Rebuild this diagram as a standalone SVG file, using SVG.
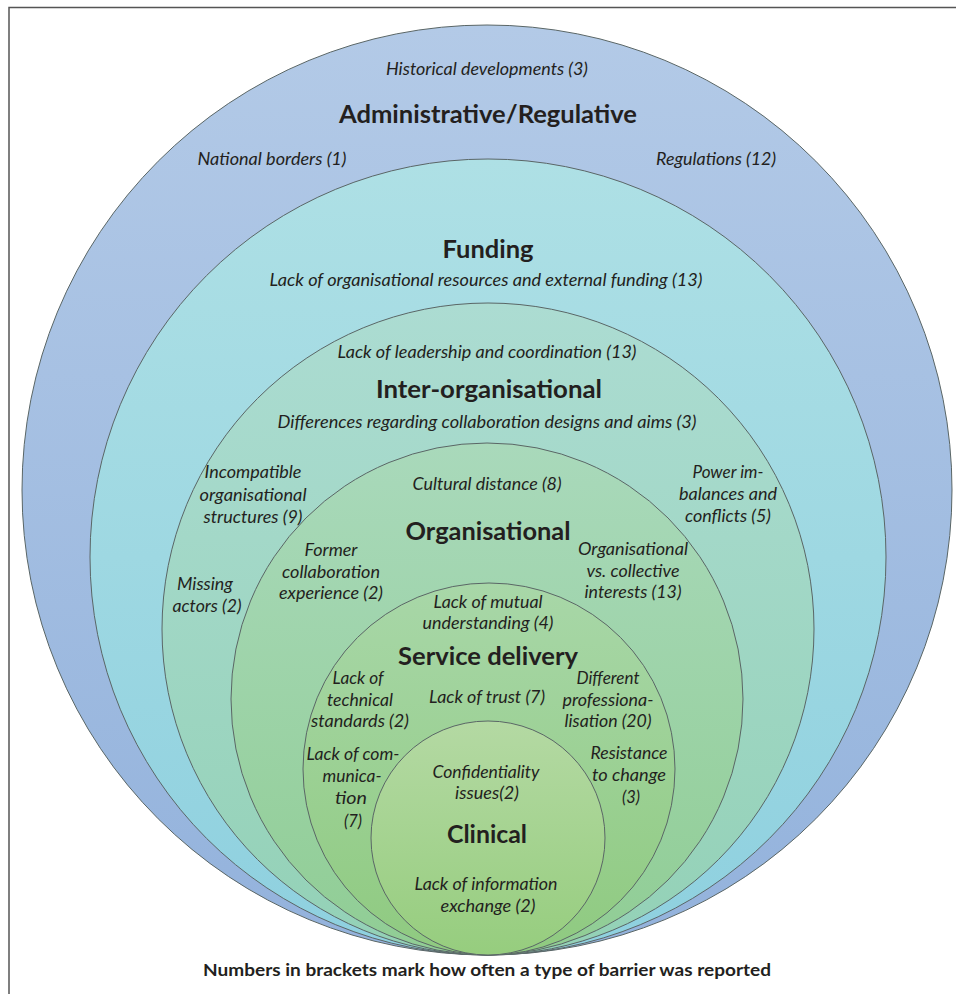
<svg xmlns="http://www.w3.org/2000/svg" width="956" height="994" viewBox="0 0 956 994">
  <style>
    .ring { stroke: #5a6666; stroke-width: 1; }
    .it { font-family: Lato, "Open Sans", "Liberation Sans", sans-serif; font-style: italic; font-size: 16.5px; fill: #231f20; text-anchor: middle; }
    .hd { font-family: Lato, "Open Sans", "Liberation Sans", sans-serif; font-weight: bold; font-size: 25.5px; fill: #231f20; text-anchor: middle; }
    .cap { font-family: Lato, "Open Sans", "Liberation Sans", sans-serif; font-weight: bold; font-size: 17.5px; fill: #231f20; text-anchor: middle; }
  </style>
  <defs>
    <linearGradient id="gAdmin" x1="0" y1="0" x2="0" y2="1">
      <stop offset="0" stop-color="#b3cae7"/>
      <stop offset="1" stop-color="#93b2dc"/>
    </linearGradient>
    <linearGradient id="gFund" x1="0" y1="0" x2="0" y2="1">
      <stop offset="0" stop-color="#aee0e5"/>
      <stop offset="1" stop-color="#8ed0df"/>
    </linearGradient>
    <linearGradient id="gInter" x1="0" y1="0" x2="0" y2="1">
      <stop offset="0" stop-color="#acdcd2"/>
      <stop offset="1" stop-color="#93d1b6"/>
    </linearGradient>
    <linearGradient id="gOrg" x1="0" y1="0" x2="0" y2="1">
      <stop offset="0" stop-color="#a9d9bb"/>
      <stop offset="1" stop-color="#90cd94"/>
    </linearGradient>
    <linearGradient id="gServ" x1="0" y1="0" x2="0" y2="1">
      <stop offset="0" stop-color="#a8d7a8"/>
      <stop offset="1" stop-color="#8fca80"/>
    </linearGradient>
    <linearGradient id="gClin" x1="0" y1="0" x2="0" y2="1">
      <stop offset="0" stop-color="#b4d9a3"/>
      <stop offset="1" stop-color="#96cd7e"/>
    </linearGradient>
  </defs>

  <rect width="956" height="994" fill="#ffffff"/>
  <!-- frame -->
  <path d="M9,994 V7.5 H956" fill="none" stroke="#555555" stroke-width="1.5"/>

  <!-- outermost ring -->
  <g id="administrative">
    <circle class="ring" cx="487" cy="490" r="465" fill="url(#gAdmin)"/>
    <text class="it" x="487" y="75" textLength="202" lengthAdjust="spacingAndGlyphs">Historical developments (3)</text>
    <text class="hd" x="488" y="123" textLength="298" lengthAdjust="spacingAndGlyphs">Administrative/Regulative</text>
    <text class="it" x="272" y="165" textLength="149" lengthAdjust="spacingAndGlyphs">National borders (1)</text>
    <text class="it" x="716" y="165" textLength="120" lengthAdjust="spacingAndGlyphs">Regulations (12)</text>
  </g>

  <g id="funding">
    <circle class="ring" cx="488" cy="557" r="398" fill="url(#gFund)"/>
    <text class="hd" x="488" y="258" textLength="91" lengthAdjust="spacingAndGlyphs">Funding</text>
    <text class="it" x="486" y="286" textLength="433" lengthAdjust="spacingAndGlyphs">Lack of organisational resources and external funding (13)</text>
  </g>

  <g id="inter-organisational">
    <circle class="ring" cx="488" cy="629" r="326" fill="url(#gInter)"/>
    <text class="it" x="487" y="358" textLength="299" lengthAdjust="spacingAndGlyphs">Lack of leadership and coordination (13)</text>
    <text class="hd" x="489" y="398" textLength="226" lengthAdjust="spacingAndGlyphs">Inter-organisational</text>
    <text class="it" x="487" y="428" textLength="419" lengthAdjust="spacingAndGlyphs">Differences regarding collaboration designs and aims (3)</text>
    <text class="it" x="253" y="478" textLength="97" lengthAdjust="spacingAndGlyphs">Incompatible</text>
    <text class="it" x="253" y="501" textLength="107" lengthAdjust="spacingAndGlyphs">organisational</text>
    <text class="it" x="253" y="523" textLength="99" lengthAdjust="spacingAndGlyphs">structures (9)</text>
    <text class="it" x="205" y="590" textLength="56" lengthAdjust="spacingAndGlyphs">Missing</text>
    <text class="it" x="207" y="612" textLength="69" lengthAdjust="spacingAndGlyphs">actors (2)</text>
    <text class="it" x="728" y="478" textLength="71" lengthAdjust="spacingAndGlyphs">Power im-</text>
    <text class="it" x="728" y="500" textLength="98" lengthAdjust="spacingAndGlyphs">balances and</text>
    <text class="it" x="728" y="522" textLength="86" lengthAdjust="spacingAndGlyphs">conflicts (5)</text>
  </g>

  <g id="organisational">
    <circle class="ring" cx="487" cy="699" r="256" fill="url(#gOrg)"/>
    <text class="it" x="487" y="490" textLength="149" lengthAdjust="spacingAndGlyphs">Cultural distance (8)</text>
    <text class="hd" x="488" y="540" textLength="165" lengthAdjust="spacingAndGlyphs">Organisational</text>
    <text class="it" x="331" y="556" textLength="53" lengthAdjust="spacingAndGlyphs">Former</text>
    <text class="it" x="331" y="578" textLength="98" lengthAdjust="spacingAndGlyphs">collaboration</text>
    <text class="it" x="331" y="599" textLength="104" lengthAdjust="spacingAndGlyphs">experience (2)</text>
    <text class="it" x="633" y="555" textLength="110" lengthAdjust="spacingAndGlyphs">Organisational</text>
    <text class="it" x="633" y="577" textLength="93" lengthAdjust="spacingAndGlyphs">vs. collective</text>
    <text class="it" x="633" y="598" textLength="97" lengthAdjust="spacingAndGlyphs">interests (13)</text>
  </g>

  <g id="service-delivery">
    <circle class="ring" cx="489" cy="769" r="186" fill="url(#gServ)"/>
    <text class="it" x="488" y="608" textLength="109" lengthAdjust="spacingAndGlyphs">Lack of mutual</text>
    <text class="it" x="488" y="629" textLength="131" lengthAdjust="spacingAndGlyphs">understanding (4)</text>
    <text class="hd" x="488" y="665" textLength="180" lengthAdjust="spacingAndGlyphs">Service delivery</text>
    <text class="it" x="358" y="684" textLength="51" lengthAdjust="spacingAndGlyphs">Lack of</text>
    <text class="it" x="360" y="706" textLength="66" lengthAdjust="spacingAndGlyphs">technical</text>
    <text class="it" x="360" y="727" textLength="98" lengthAdjust="spacingAndGlyphs">standards (2)</text>
    <text class="it" x="487" y="703" textLength="116" lengthAdjust="spacingAndGlyphs">Lack of trust (7)</text>
    <text class="it" x="608" y="684" textLength="63" lengthAdjust="spacingAndGlyphs">Different</text>
    <text class="it" x="608" y="706" textLength="91" lengthAdjust="spacingAndGlyphs">professiona-</text>
    <text class="it" x="608" y="727" textLength="87" lengthAdjust="spacingAndGlyphs">lisation (20)</text>
    <text class="it" x="353" y="760" textLength="93" lengthAdjust="spacingAndGlyphs">Lack of com-</text>
    <text class="it" x="352" y="782" textLength="59" lengthAdjust="spacingAndGlyphs">munica-</text>
    <text class="it" x="351" y="804" textLength="32" lengthAdjust="spacingAndGlyphs">tion</text>
    <text class="it" x="353" y="827">(7)</text>
    <text class="it" x="629" y="759" textLength="77" lengthAdjust="spacingAndGlyphs">Resistance</text>
    <text class="it" x="629" y="781" textLength="74" lengthAdjust="spacingAndGlyphs">to change</text>
    <text class="it" x="631" y="803">(3)</text>
  </g>

  <g id="clinical">
    <circle class="ring" cx="488" cy="838" r="117" fill="url(#gClin)"/>
    <text class="it" x="486" y="778" textLength="107" lengthAdjust="spacingAndGlyphs">Confidentiality</text>
    <text class="it" x="487" y="799" textLength="64" lengthAdjust="spacingAndGlyphs">issues(2)</text>
    <text class="hd" x="487" y="843" textLength="80" lengthAdjust="spacingAndGlyphs">Clinical</text>
    <text class="it" x="486" y="890" textLength="143" lengthAdjust="spacingAndGlyphs">Lack of information</text>
    <text class="it" x="488" y="912" textLength="95" lengthAdjust="spacingAndGlyphs">exchange (2)</text>
  </g>

  <text class="cap" x="487" y="976" textLength="568" lengthAdjust="spacingAndGlyphs">Numbers in brackets mark how often a type of barrier was reported</text>
</svg>
